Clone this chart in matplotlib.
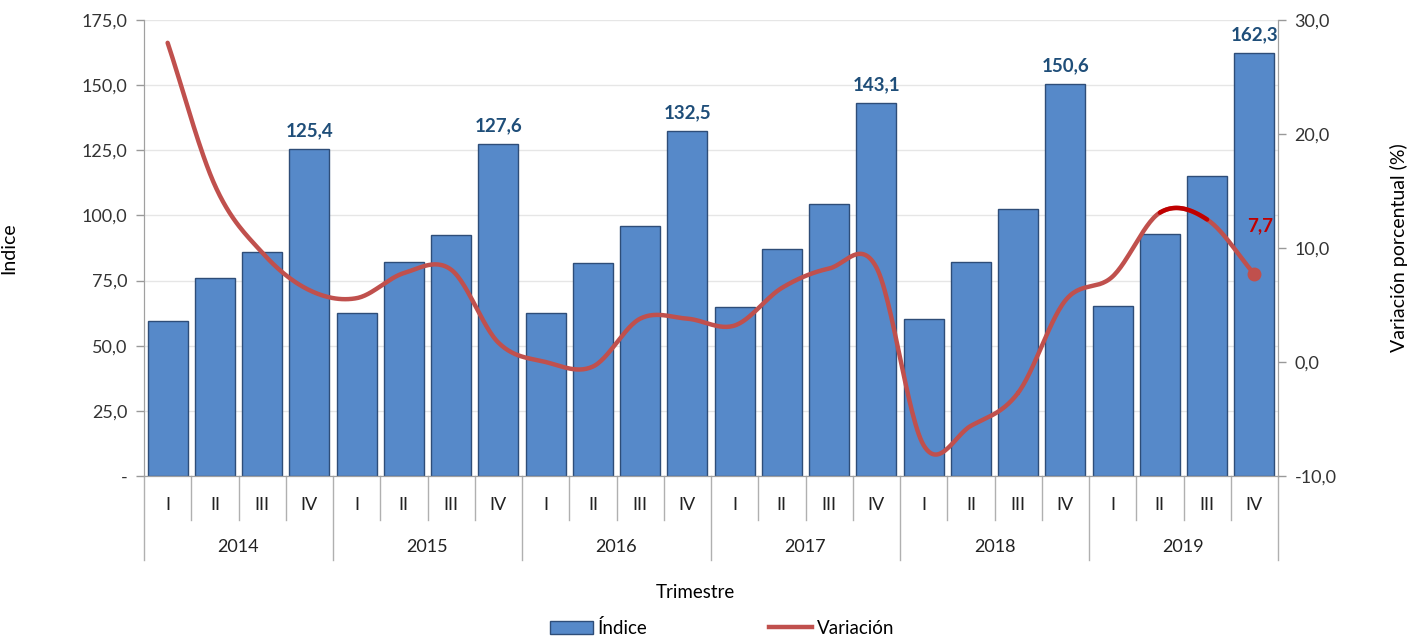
import matplotlib
matplotlib.use("Agg")
import matplotlib.pyplot as plt
import numpy as np
from matplotlib.lines import Line2D
from matplotlib.patches import Patch
from matplotlib.ticker import FuncFormatter, MultipleLocator

plt.rcParams["font.family"] = ["Lato", "DejaVu Sans"]

# ── Data ──────────────────────────────────────────────────────────────────────
years = ["2014", "2015", "2016", "2017", "2018", "2019"]
quarters = ["I", "II", "III", "IV"]
indice = [59.5, 76.1, 86.1, 125.4,
          62.7, 82.0, 92.5, 127.6,
          62.7, 81.6, 96.1, 132.5,
          64.7, 87.0, 104.3, 143.1,
          60.2, 82.0, 102.6, 150.6,
          65.2, 92.9, 115.1, 162.3]
variacion = [28.0, 15.5, 9.6, 6.3,
             5.6, 7.8, 8.1, 1.7,
             0.0, -0.4, 3.8, 3.8,
             3.2, 6.5, 8.2, 8.3,
             -7.3, -5.6, -2.7, 5.4,
             7.5, 13.1, 12.5, 7.7]

BAR_COLOR = "#5689C9"
BAR_EDGE = "#2E4D78"
LINE_COLOR = "#C0504D"
LABEL_BLUE = "#1F4E79"


def smooth(xs, ys, n=30):
    """Catmull-Rom curve through the points (like Excel's smoothed line)."""
    px = np.concatenate([[2 * xs[0] - xs[1]], xs, [2 * xs[-1] - xs[-2]]])
    py = np.concatenate([[2 * ys[0] - ys[1]], ys, [2 * ys[-1] - ys[-2]]])
    out_x, out_y = [], []
    t = np.linspace(0, 1, n)
    for i in range(1, len(px) - 2):
        for arr, out in ((px, out_x), (py, out_y)):
            p0, p1, p2, p3 = arr[i - 1], arr[i], arr[i + 1], arr[i + 2]
            out.append(0.5 * ((2 * p1) + (-p0 + p2) * t
                              + (2 * p0 - 5 * p1 + 4 * p2 - p3) * t ** 2
                              + (-p0 + 3 * p1 - 3 * p2 + p3) * t ** 3))
    return out_x, out_y


fig = plt.figure(figsize=(14.14, 6.4), dpi=100)
ax = fig.add_axes([144 / 1414, 1 - 476 / 640, (1278 - 144) / 1414, 456 / 640])
x = np.arange(len(indice))

# ── Bars (left axis) ──────────────────────────────────────────────────────────
ax.bar(x, indice, width=0.85, color=BAR_COLOR, edgecolor=BAR_EDGE,
       linewidth=1.0, zorder=2)
for i, v in enumerate(indice):
    if i % 4 == 3:
        ax.annotate(f"{v:.1f}".replace(".", ","), (x[i], v),
                    xytext=(0, 7), textcoords="offset points",
                    ha="center", va="bottom", fontsize=13.5,
                    fontweight="bold", color=LABEL_BLUE)

ax.set_xlim(-0.5, len(indice) - 0.5)
ax.set_ylim(0, 175)
ax.yaxis.set_major_locator(MultipleLocator(25))
ax.yaxis.set_major_formatter(FuncFormatter(
    lambda v, _: "-" if v == 0 else f"{v:.1f}".replace(".", ",")))
ax.grid(axis="y", color="#E6E6E6", linewidth=1.0, zorder=0)
ax.set_axisbelow(True)
ax.set_xticks([])
ax.tick_params(axis="y", labelsize=13, colors="#333333", length=6,
               width=1, pad=6)
ax.tick_params(axis="y", color="#999999")
ax.spines["top"].set_visible(False)
for side in ("left", "right", "bottom"):
    ax.spines[side].set_color("#A0A0A0")
ax.set_ylabel("Índice", fontsize=14)
ax.yaxis.set_label_coords((18 - 144) / 1134, 0.5)

# ── Line (right axis) ─────────────────────────────────────────────────────────
ax2 = ax.twinx()
ax2.set_ylim(-10, 30)
ax2.yaxis.set_major_locator(MultipleLocator(10))
ax2.yaxis.set_major_formatter(FuncFormatter(
    lambda v, _: f"{v:.1f}".replace(".", ",")))
ax2.tick_params(axis="y", labelsize=13, colors="#333333", length=6,
                width=1, pad=6)
ax2.tick_params(axis="y", color="#999999")
ax2.spines["top"].set_visible(False)
for side in ("left", "right", "bottom"):
    ax2.spines[side].set_color("#A0A0A0")
ax2.set_ylabel("Variación porcentual (%)", fontsize=14)
ax2.yaxis.set_label_coords((1390 - 144) / 1134, 0.5)

sx, sy = smooth(x.astype(float), np.array(variacion, dtype=float))
ax2.plot(np.concatenate(sx), np.concatenate(sy), color=LINE_COLOR,
         linewidth=3.2, solid_capstyle="round", zorder=3)
# highlighted segment between 2019-II and 2019-III
ax2.plot(sx[21], sy[21], color="#C00000", linewidth=3.2,
         solid_capstyle="round", zorder=4)
ax2.plot(x[-1], variacion[-1], "o", color=LINE_COLOR, markersize=9, zorder=5)
ax2.annotate(f"{variacion[-1]:.1f}".replace(".", ","), (x[-1], variacion[-1]),
             xytext=(4, 35), textcoords="offset points", ha="center",
             va="center", fontsize=13.5, fontweight="bold", color="#C00000")

# ── Multi-level category axis ─────────────────────────────────────────────────
tr = ax.get_xaxis_transform()
h = 456.0
for i in range(len(indice)):
    ax.text(x[i], -29 / h, quarters[i % 4], transform=tr, ha="center",
            va="center", fontsize=13, color="#222222")
for k in range(len(indice) + 1):
    bottom = -84 / h if k % 4 == 0 else -44 / h
    ax.add_line(Line2D([k - 0.5, k - 0.5], [0, bottom], transform=tr,
                       color="#B0B0B0", linewidth=1.0, clip_on=False))
for j, yr in enumerate(years):
    ax.text(4 * j + 1.5, -71 / h, yr, transform=tr, ha="center",
            va="center", fontsize=13, color="#222222")

fig.text(695 / 1414, 1 - 593 / 640, "Trimestre", ha="center", va="center",
         fontsize=13.5)

# ── Legend ────────────────────────────────────────────────────────────────────
handles = [Patch(facecolor=BAR_COLOR, edgecolor=BAR_EDGE, label="Índice"),
           Line2D([], [], color=LINE_COLOR, linewidth=3.2, label="Variación")]
fig.legend(handles=handles, loc="center",
           bbox_to_anchor=(722 / 1414, 1 - 628 / 640),
           ncol=2, frameon=False, fontsize=13.5, columnspacing=6.5,
           handlelength=2.3, handletextpad=0.25)

fig.savefig("out.png", dpi=100)
